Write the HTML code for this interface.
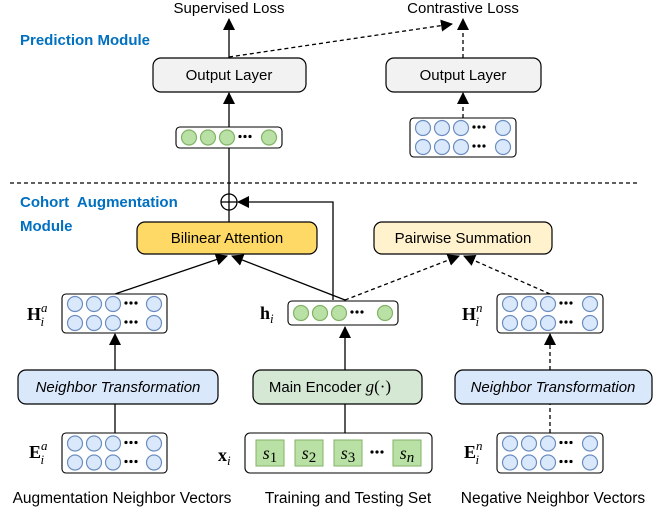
<!DOCTYPE html>
<html><head><meta charset="utf-8"><style>
body{margin:0;background:#fff}
svg{display:block}
</style></head><body>
<svg id="s" width="654" height="510" viewBox="0 0 654 510" xmlns="http://www.w3.org/2000/svg" font-family="Liberation Sans, sans-serif">
<defs>
<marker id="a" markerWidth="12" markerHeight="12" refX="11" refY="6" orient="auto" markerUnits="userSpaceOnUse" viewBox="0 0 12 12"><path d="M0,0 L12,6 L0,12 z" fill="#000"/></marker>
</defs>
<g stroke="#000" stroke-width="1.3" fill="none">
<line x1="229" y1="58" x2="229" y2="19" marker-end="url(#a)"/>
<line x1="229" y1="127" x2="229" y2="93" marker-end="url(#a)"/>
<line x1="463" y1="58" x2="463" y2="19" stroke-dasharray="4,3" marker-end="url(#a)"/>
<line x1="463" y1="118" x2="463" y2="93" stroke-dasharray="4,3" marker-end="url(#a)"/>
<line x1="229" y1="57" x2="452" y2="24" stroke-dasharray="4,3" marker-end="url(#a)"/>
<line x1="229" y1="147" x2="229" y2="222"/>
<line x1="10" y1="183" x2="638" y2="183" stroke-dasharray="4,3"/>
<circle cx="229" cy="202" r="8" fill="#fff"/>
<line x1="221" y1="202" x2="237" y2="202"/>
<line x1="229" y1="194" x2="229" y2="210"/>
<polyline points="333,300 333,202 238,202" marker-end="url(#a)"/>
<line x1="115" y1="294" x2="227" y2="256" marker-end="url(#a)"/>
<line x1="345" y1="300" x2="232" y2="256" marker-end="url(#a)"/>
<line x1="345" y1="300" x2="459" y2="256" stroke-dasharray="4,3" marker-end="url(#a)"/>
<line x1="550" y1="294" x2="464" y2="256" stroke-dasharray="4,3" marker-end="url(#a)"/>
<line x1="115" y1="370" x2="115" y2="334" marker-end="url(#a)"/>
<line x1="115" y1="433" x2="115" y2="404"/>
<line x1="345" y1="370" x2="345" y2="327" marker-end="url(#a)"/>
<line x1="345" y1="433" x2="345" y2="404"/>
<line x1="550" y1="370" x2="550" y2="334" stroke-dasharray="4,3" marker-end="url(#a)"/>
<line x1="550" y1="433" x2="550" y2="404" stroke-dasharray="4,3"/>
</g>
<g stroke="#000" stroke-width="1.2">
<rect x="153" y="58" width="153" height="34" rx="8" fill="#f2f2f2"/>
<rect x="386" y="58" width="155" height="34" rx="8" fill="#f2f2f2"/>
<rect x="137" y="222" width="180" height="32" rx="8" fill="#ffd966"/>
<rect x="374" y="222" width="178" height="32" rx="8" fill="#fff2cc"/>
<rect x="18" y="370" width="200" height="34" rx="8" fill="#dae8fc"/>
<rect x="455" y="370" width="197" height="34" rx="8" fill="#dae8fc"/>
<rect x="253" y="370" width="169" height="34" rx="8" fill="#d5e8d4"/>
</g>
<g font-size="15" text-anchor="middle" fill="#000">
<text x="229" y="13">Supervised Loss</text>
<text x="463" y="13">Contrastive Loss</text>
<text x="229" y="80">Output Layer</text>
<text x="463" y="80">Output Layer</text>
<text x="227" y="243">Bilinear Attention</text>
<text x="463" y="243">Pairwise Summation</text>
<text x="118" y="392" font-style="italic">Neighbor Transformation</text>
<text x="553" y="392" font-style="italic">Neighbor Transformation</text>
<text x="330" y="392">Main Encoder <tspan font-family="Liberation Serif, serif" font-style="italic" font-size="17">g</tspan><tspan font-family="Liberation Serif, serif" font-size="17">(·)</tspan></text>
<text x="122" y="503" font-size="15.5">Augmentation Neighbor Vectors</text>
<text x="348" y="503" font-size="15.5">Training and Testing Set</text>
<text x="553" y="503" font-size="15.5">Negative Neighbor Vectors</text>
</g>
<g font-size="15" font-weight="bold" fill="#0070c0">
<text x="20" y="45">Prediction Module</text>
<text x="20" y="207">Cohort&#160; Augmentation</text>
<text x="20" y="231">Module</text>
</g>
<g font-family="Liberation Serif, serif" font-size="18" fill="#000">
<text x="27" y="320" font-weight="bold">H<tspan font-size="13" font-style="italic" dy="-8" font-weight="normal">a</tspan><tspan font-size="13" font-style="italic" dx="-7" dy="14" font-weight="normal">i</tspan></text>
<text x="462" y="320" font-weight="bold">H<tspan font-size="13" font-style="italic" dy="-8" font-weight="normal">n</tspan><tspan font-size="13" font-style="italic" dx="-7" dy="14" font-weight="normal">i</tspan></text>
<text x="29" y="458" font-weight="bold">E<tspan font-size="13" font-style="italic" dy="-8" font-weight="normal">a</tspan><tspan font-size="13" font-style="italic" dx="-7" dy="14" font-weight="normal">i</tspan></text>
<text x="464" y="458" font-weight="bold">E<tspan font-size="13" font-style="italic" dy="-8" font-weight="normal">n</tspan><tspan font-size="13" font-style="italic" dx="-7" dy="14" font-weight="normal">i</tspan></text>
<text x="260" y="319" font-weight="bold">h<tspan font-size="13" font-style="italic" dy="4" font-weight="normal">i</tspan></text>
<text x="218" y="461" font-weight="bold">x<tspan font-size="13" font-style="italic" dy="4" font-weight="normal">i</tspan></text>
</g>
<g id="vec"></g>
</svg>
<script>
var ns="http://www.w3.org/2000/svg",g=document.getElementById("vec");
function el(t,a){var e=document.createElementNS(ns,t);for(var k in a)e.setAttribute(k,a[k]);g.appendChild(e);return e;}
function vec(x,y,w,h,rows,green){
 el("rect",{x:x,y:y,width:w,height:h,rx:4,fill:"#fff",stroke:"#000","stroke-width":1.1});
 var fill=green?"#b9e0a5":"#dae8fc",st=green?"#82b366":"#6c8ebf";
 var cy0=rows==1?y+h/2:y+h/2-9.5;
 for(var r=0;r<rows;r++){var cy=cy0+r*19;
  [13,32,51,w-13].forEach(function(dx){el("circle",{cx:x+dx,cy:cy,r:7.5,fill:fill,stroke:st,"stroke-width":1.2});});
  [64,69,74].forEach(function(dx){el("circle",{cx:x+dx,cy:cy-1,r:1.6,fill:"#000"});});
 }
}
vec(176,127,106,21,1,true);
vec(410,118,106,39,2,false);
vec(62,294,105,39,2,false);
vec(497,294,106,39,2,false);
vec(288,301,110,24,1,true);
vec(62,433,105,40,2,false);
vec(497,433,106,40,2,false);
el("rect",{x:245,y:433,width:187,height:40,rx:5,fill:"#fff",stroke:"#000","stroke-width":1.1});
var xs=[256,295,334,393],lab=["1","2","3","n"];
xs.forEach(function(x,i){el("rect",{x:x,y:440,width:28,height:26,fill:"#b9e0a5",stroke:"#82b366","stroke-width":1});
 var t=el("text",{x:x+14,y:459,"text-anchor":"middle","font-family":"Liberation Serif, serif","font-size":"18","font-style":"italic"});
 t.textContent="s";var ts=document.createElementNS(ns,"tspan");ts.setAttribute("font-style",i==3?"italic":"normal");ts.setAttribute("dy","3");ts.setAttribute("font-size","15");ts.textContent=lab[i];t.appendChild(ts);});
[372,377,382].forEach(function(x){el("circle",{cx:x,cy:452,r:1.6,fill:"#000"});});
</script>
</body></html>
